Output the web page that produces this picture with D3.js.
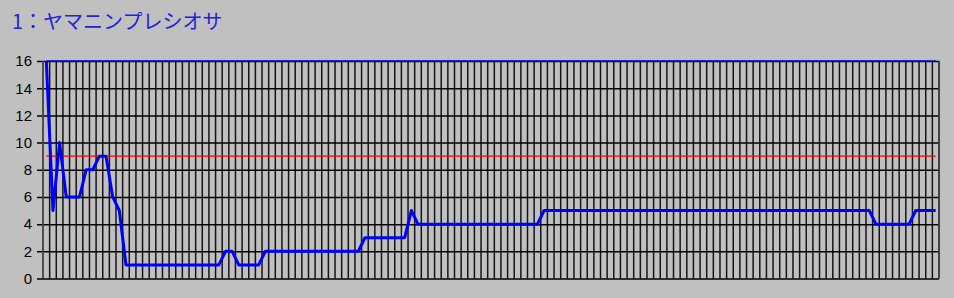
<!DOCTYPE html>
<html>
<head>
<meta charset="utf-8">
<script src="https://cdn.jsdelivr.net/npm/d3@7"></script>
<style>
  body { margin: 0; background: #c0c0c0; }
</style>
</head>
<body>
<div class="chart"></div>
<script>
var svgWidth = 954;
var svgHeight = 298;

var title = "1：ヤマニンプレシオサ";

// one value per race
var values = [
  16, 5, 10, 6, 6, 6, 8, 8, 9, 9, 6, 5,
  1, 1, 1, 1, 1, 1, 1, 1, 1, 1, 1, 1, 1, 1, 1,
  2, 2,
  1, 1, 1, 1,
  2, 2, 2, 2, 2, 2, 2, 2, 2, 2, 2, 2, 2, 2, 2,
  3, 3, 3, 3, 3, 3, 3,
  5,
  4, 4, 4, 4, 4, 4, 4, 4, 4, 4, 4, 4, 4, 4, 4, 4, 4, 4, 4,
  5, 5, 5, 5, 5, 5, 5, 5, 5, 5, 5, 5, 5, 5, 5, 5, 5, 5, 5, 5, 5, 5, 5, 5, 5,
  5, 5, 5, 5, 5, 5, 5, 5, 5, 5, 5, 5, 5, 5, 5, 5, 5, 5, 5, 5, 5, 5, 5, 5, 5,
  4, 4, 4, 4, 4, 4,
  5, 5, 5, 5
];
var categories = values.map(function(d, i) { return i + 1; });
var yTicks = [0, 2, 4, 6, 8, 10, 12, 14, 16];
var refValue = 9;
var topValue = 16;

var margin = { top: 61, right: 15, bottom: 19.5, left: 43 };
var width = svgWidth - margin.left - margin.right;
var height = svgHeight - margin.top - margin.bottom;

var svg = d3.select(".chart")
  .append("svg")
  .attr("width", svgWidth)
  .attr("height", svgHeight);

svg.append("rect")
  .attr("width", svgWidth)
  .attr("height", svgHeight)
  .attr("fill", "#c0c0c0");

svg.append("text")
  .attr("x", 12)
  .attr("y", 29)
  .attr("font-family", "Noto Sans CJK JP")
  .attr("font-size", "20px")
  .attr("fill", "#2222dd")
  .text(title);

var chartGroup = svg.append("g")
  .attr("transform", `translate(${margin.left}, ${margin.top})`);

var xScale = d3.scaleBand()
  .domain(categories)
  .range([0, width]);

var yScale = d3.scaleLinear()
  .domain([0, 16])
  .range([height, 0]);

// vertical grid at band edges
var edges = categories.map(function(c) { return xScale(c); }).concat([width]);
chartGroup.selectAll(".vgrid")
  .data(edges)
  .enter()
  .append("line")
  .attr("class", "vgrid")
  .attr("x1", d => d)
  .attr("x2", d => d)
  .attr("y1", 0)
  .attr("y2", height)
  .attr("stroke", "#151515")
  .attr("stroke-width", 1.5);

// horizontal grid + ticks
var leftAxis = d3.axisLeft(yScale)
  .tickValues(yTicks)
  .tickSize(-width)
  .tickPadding(10);

var yAxis = chartGroup.append("g")
  .call(leftAxis);
yAxis.select(".domain").remove();
yAxis.selectAll(".tick line")
  .attr("x1", -6)
  .attr("stroke", "#000")
  .attr("stroke-width", 1.5);
yAxis.selectAll(".tick text")
  .attr("x", -11)
  .attr("font-family", "Liberation Sans")
  .attr("font-size", "15px")
  .attr("fill", "#000");

// border lines
chartGroup.append("line")
  .attr("x1", 0).attr("x2", 0)
  .attr("y1", 0).attr("y2", height)
  .attr("stroke", "#555").attr("stroke-width", 1.5);
chartGroup.append("line")
  .attr("x1", width).attr("x2", width)
  .attr("y1", 0).attr("y2", height)
  .attr("stroke", "#444").attr("stroke-width", 1.5);

var first = categories[0];
var last = categories[categories.length - 1];
var cx = d => xScale(d) + xScale.bandwidth() / 2;

// reference line
chartGroup.append("line")
  .attr("x1", cx(first)).attr("x2", cx(last))
  .attr("y1", yScale(refValue)).attr("y2", yScale(refValue))
  .attr("stroke", "#ff0000").attr("stroke-width", 1.2);

chartGroup.append("line")
  .attr("x1", cx(first)).attr("x2", cx(last))
  .attr("y1", yScale(topValue)).attr("y2", yScale(topValue))
  .attr("stroke", "#0000ff").attr("stroke-width", 1.5);

var line = d3.line()
  .x(function(d, i) { return cx(categories[i]); })
  .y(function(d) { return yScale(d); });

chartGroup.append("path")
  .datum(values)
  .attr("d", line)
  .attr("fill", "none")
  .attr("stroke", "#0000ff")
  .attr("stroke-width", 3)
  .attr("stroke-linejoin", "round");
</script>
</body>
</html>
